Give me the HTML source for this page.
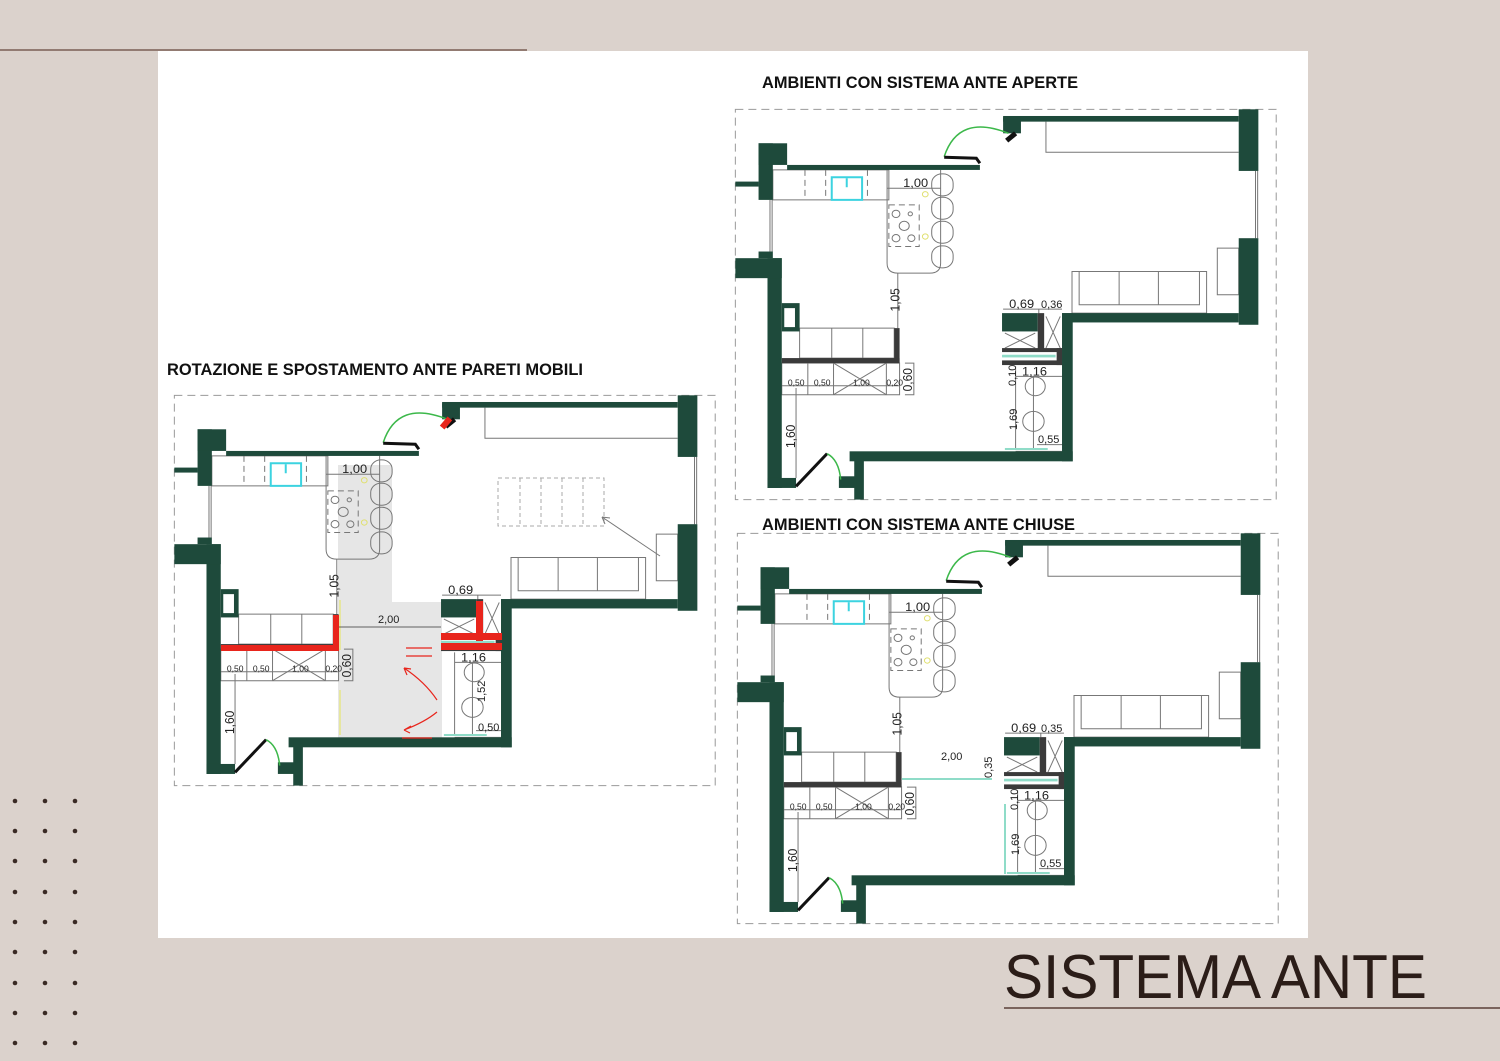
<!DOCTYPE html>
<html><head><meta charset="utf-8"><style>
html,body{margin:0;padding:0;background:#dbd2cc;}
svg{display:block;}
</style></head><body>
<svg width="1500" height="1061" viewBox="0 0 1500 1061" xmlns="http://www.w3.org/2000/svg" font-family="Liberation Sans, sans-serif">
<defs>
<g id="p">
  <rect x="15" y="28" width="1515" height="1172" fill="none" stroke="#999" stroke-dasharray="8 5" vector-effect="non-scaling-stroke"/>
  <g fill="none" stroke="#777">
    <path d="M885 65 V157 H1425" vector-effect="non-scaling-stroke"/>
    <rect x="1365" y="445" width="60" height="140" vector-effect="non-scaling-stroke"/>
    <rect x="958" y="515" width="377" height="125" vector-effect="non-scaling-stroke"/>
    <path d="M978 515 V615 H1315 V515 M1090 515 V615 M1200 515 V615" vector-effect="non-scaling-stroke"/>
    <rect x="120" y="210" width="325" height="90" vector-effect="non-scaling-stroke"/>
    <path d="M210 210 V300 M268 210 V300 M385 210 V300" stroke-dasharray="6 4" vector-effect="non-scaling-stroke"/>
    <path d="M440 210 V490 Q440 520 470 520 H560 Q590 520 590 490 V210" vector-effect="non-scaling-stroke"/>
    <rect x="445" y="315" width="85" height="125" stroke-dasharray="6 4" vector-effect="non-scaling-stroke"/>
    <circle cx="465" cy="342" r="11" vector-effect="non-scaling-stroke"/><circle cx="505" cy="342" r="6" vector-effect="non-scaling-stroke"/>
    <circle cx="488" cy="378" r="14" vector-effect="non-scaling-stroke"/><circle cx="465" cy="415" r="11" vector-effect="non-scaling-stroke"/><circle cx="508" cy="415" r="10" vector-effect="non-scaling-stroke"/>
    <rect x="565" y="222" width="60" height="66" rx="28" vector-effect="non-scaling-stroke"/>
    <rect x="565" y="292" width="60" height="66" rx="28" vector-effect="non-scaling-stroke"/>
    <rect x="565" y="364" width="60" height="66" rx="28" vector-effect="non-scaling-stroke"/>
    <rect x="565" y="438" width="60" height="66" rx="28" vector-effect="non-scaling-stroke"/>
    <rect x="195" y="685" width="265" height="90" vector-effect="non-scaling-stroke"/>
    <path d="M285 685 V775 M372 685 V775" vector-effect="non-scaling-stroke"/>
    <rect x="145" y="790" width="330" height="95" vector-effect="non-scaling-stroke"/>
    <path d="M218 790 V885 M290 790 V885 M438 790 V885 M290 790 L438 885 M438 790 L290 885" vector-effect="non-scaling-stroke"/>
    <path d="M145 858 H475 M185 865 V1135 M470 520 V685 M440 265 H590 M490 790 H515 V885 H490 M800 800 V1050 M800 830 H930 M850 830 V1050 M800 1055 H930 M860 1035 H930 M765 628 H930 M865 628 V640" vector-effect="non-scaling-stroke"/>
    <circle cx="855" cy="860" r="28" vector-effect="non-scaling-stroke"/><circle cx="850" cy="965" r="30" vector-effect="non-scaling-stroke"/>
    <path d="M770 700 L855 745 M855 700 L770 745 M885 650 L925 745 M925 650 L885 745" vector-effect="non-scaling-stroke"/>
    <path d="M1472 213 V415 M1478 213 V415 M112 300 V455 M118 300 V455" vector-effect="non-scaling-stroke"/>
  </g>
  <rect x="285" y="232" width="85" height="68" fill="none" stroke="#3cd3e0" stroke-width="2" vector-effect="non-scaling-stroke"/>
  <path d="M327 235 V262" stroke="#3cd3e0" stroke-width="2" vector-effect="non-scaling-stroke"/>
  <circle cx="547" cy="283" r="8" fill="none" stroke="#e0e070" vector-effect="non-scaling-stroke"/>
  <circle cx="547" cy="410" r="8" fill="none" stroke="#e0e070" vector-effect="non-scaling-stroke"/>
  <g fill="#1e4a3b">
    <rect x="765" y="48" width="660" height="17"/><rect x="765" y="52" width="50" height="48"/>
    <rect x="1425" y="28" width="55" height="185"/><rect x="1425" y="415" width="55" height="260"/>
    <rect x="930" y="640" width="495" height="28"/><rect x="930" y="640" width="30" height="445"/>
    <rect x="335" y="1055" width="625" height="30"/><rect x="348" y="1060" width="27" height="140"/><rect x="305" y="1130" width="50" height="35"/>
    <rect x="105" y="475" width="40" height="690"/><rect x="105" y="1135" width="80" height="30"/>
    <rect x="15" y="475" width="130" height="60"/>
    <rect x="80" y="130" width="40" height="170"/><rect x="80" y="130" width="80" height="65"/>
    <rect x="160" y="195" width="540" height="15"/><rect x="15" y="245" width="65" height="15"/><rect x="80" y="455" width="40" height="20"/>
    <rect x="145" y="610" width="50" height="85"/><rect x="762" y="640" width="100" height="55"/>
  </g>
  <rect x="152" y="625" width="30" height="57" fill="#fff"/>
  <g fill="#3a3a3a">
    <rect x="145" y="775" width="330" height="15"/><rect x="460" y="685" width="15" height="105"/>
    <rect x="862" y="640" width="18" height="110"/><rect x="762" y="745" width="168" height="12"/><rect x="762" y="782" width="168" height="14"/><rect x="915" y="745" width="15" height="51"/>
  </g>
  <rect x="762" y="765" width="150" height="8" fill="#8fdcc8"/>
  <rect x="770" y="1045" width="120" height="6" fill="#8fdcc8"/>
  <path d="M600 170 Q640 40 780 100" fill="none" stroke="#3cb84a" stroke-width="1.5" vector-effect="non-scaling-stroke"/>
  <path d="M600 172 L690 175 L700 190" fill="none" stroke="#111" stroke-width="3" vector-effect="non-scaling-stroke"/>
  <path d="M775 122 L800 100" stroke="#111" stroke-width="5" vector-effect="non-scaling-stroke"/>
  <path d="M185 1160 L272 1062" stroke="#111" stroke-width="3" vector-effect="non-scaling-stroke"/>
  <path d="M272 1062 Q305 1080 310 1140" fill="none" stroke="#3cb84a" stroke-width="1.5" vector-effect="non-scaling-stroke"/>
  <g font-size="36" fill="#222">
    <text x="485" y="262">1,00</text>
    <text x="162" y="858" font-size="24">0,50</text><text x="235" y="858" font-size="24">0,50</text>
    <text x="345" y="858" font-size="24">1,00</text><text x="438" y="858" font-size="24">0,20</text>
    <text x="782" y="625">0,69</text><text x="818" y="828">1,16</text>
    <text transform="translate(475 635) rotate(-90)">1,05</text>
    <text transform="translate(510 875) rotate(-90)">0,60</text>
    <text transform="translate(182 1045) rotate(-90)">1,60</text>
  </g>
</g>
</defs>
<rect x="0" y="0" width="1500" height="1061" fill="#dbd2cc"/>
<line x1="0" y1="50" x2="527" y2="50" stroke="#7a5e54" stroke-width="1.5"/>
<rect x="158" y="51" width="1150" height="887" fill="#fff"/>

<g transform="translate(730 100) scale(0.357 0.333)"><use href="#p"/></g>
<g transform="translate(732 524) scale(0.357 0.333)"><use href="#p"/></g>
<rect x="902" y="778" width="90" height="2" fill="#8fdcc8"/>
<rect x="1004" y="804" width="2" height="70" fill="#8fdcc8"/>

<!-- left plan: gray under -->
<path d="M338 465 H392 V602 H442 V738 H338 Z" fill="#e6e6e6"/>
<path d="M340 600 V650 M340 690 V735" stroke="#e6e6a0" stroke-width="2"/>
<g transform="translate(169 386) scale(0.357 0.333)"><use href="#p"/></g>
<g fill="#e8251c">
  <rect x="221" y="645" width="116" height="6"/><rect x="333" y="615" width="6" height="36"/>
  <rect x="476" y="601" width="7" height="40"/><rect x="441" y="633" width="61" height="7"/><rect x="441" y="643" width="61" height="7"/>
  <rect x="443" y="417" width="6" height="12" transform="rotate(40 446 423)"/>
</g>
<g stroke="#e8251c" stroke-width="1.2" fill="none">
  <path d="M437 700 Q425 682 404 668 M404 668 l3 7 M404 668 l7 1"/>
  <path d="M437 712 Q425 722 404 730 M404 730 l7 -4 M404 730 l6 3"/>
  <path d="M406 648 H432 M406 656 H432 M402 738 H432"/>
</g>
<g stroke="#aaa" fill="none" stroke-dasharray="4 3">
  <rect x="498" y="478" width="106" height="48"/><path d="M520 478V526 M541 478V526 M562 478V526 M583 478V526"/>
</g>
<path d="M660 556 L602 517 M602 517 l8 1 M602 517 l3 7" stroke="#777" fill="none"/>

<g font-size="11" fill="#222">
  <text x="1041" y="308">0,36</text>
  <text transform="translate(1016 386) rotate(-90)">0,10</text>
  <text transform="translate(1017 430) rotate(-90)">1,69</text>
  <text x="1038" y="443">0,55</text>
  <text x="1041" y="732">0,35</text>
  <text x="941" y="760">2,00</text>
  <text transform="translate(992 778) rotate(-90)">0,35</text>
  <text transform="translate(1018 810) rotate(-90)">0,10</text>
  <text transform="translate(1019 855) rotate(-90)">1,69</text>
  <text x="1040" y="867">0,55</text>
  <text x="378" y="623">2,00</text>
  <line x1="339" y1="627" x2="441" y2="627" stroke="#333" stroke-width="0.7"/>
  <text transform="translate(485 702) rotate(-90)">1,52</text>
  <text x="478" y="731">0,50</text>
</g>

<g font-weight="bold" font-size="17" fill="#111">
  <text x="762" y="88" textLength="316" lengthAdjust="spacingAndGlyphs">AMBIENTI CON SISTEMA ANTE APERTE</text>
  <text x="762" y="530" textLength="313" lengthAdjust="spacingAndGlyphs">AMBIENTI CON SISTEMA ANTE CHIUSE</text>
  <text x="167" y="375" textLength="416" lengthAdjust="spacingAndGlyphs">ROTAZIONE E SPOSTAMENTO ANTE PARETI MOBILI</text>
</g>
<text x="1004" y="998" font-size="62" fill="#2b1d18" textLength="423" lengthAdjust="spacingAndGlyphs">SISTEMA ANTE</text>
<line x1="1004" y1="1008" x2="1500" y2="1008" stroke="#5b4038" stroke-width="1.5"/>

<g fill="#3a2a24">
  <circle cx="15" cy="801" r="2.3"/><circle cx="45" cy="801" r="2.3"/><circle cx="75" cy="801" r="2.3"/>
  <circle cx="15" cy="831" r="2.3"/><circle cx="45" cy="831" r="2.3"/><circle cx="75" cy="831" r="2.3"/>
  <circle cx="15" cy="861" r="2.3"/><circle cx="45" cy="861" r="2.3"/><circle cx="75" cy="861" r="2.3"/>
  <circle cx="15" cy="892" r="2.3"/><circle cx="45" cy="892" r="2.3"/><circle cx="75" cy="892" r="2.3"/>
  <circle cx="15" cy="922" r="2.3"/><circle cx="45" cy="922" r="2.3"/><circle cx="75" cy="922" r="2.3"/>
  <circle cx="15" cy="952" r="2.3"/><circle cx="45" cy="952" r="2.3"/><circle cx="75" cy="952" r="2.3"/>
  <circle cx="15" cy="983" r="2.3"/><circle cx="45" cy="983" r="2.3"/><circle cx="75" cy="983" r="2.3"/>
  <circle cx="15" cy="1013" r="2.3"/><circle cx="45" cy="1013" r="2.3"/><circle cx="75" cy="1013" r="2.3"/>
  <circle cx="15" cy="1043" r="2.3"/><circle cx="45" cy="1043" r="2.3"/><circle cx="75" cy="1043" r="2.3"/>
</g>
</svg>
</body></html>
